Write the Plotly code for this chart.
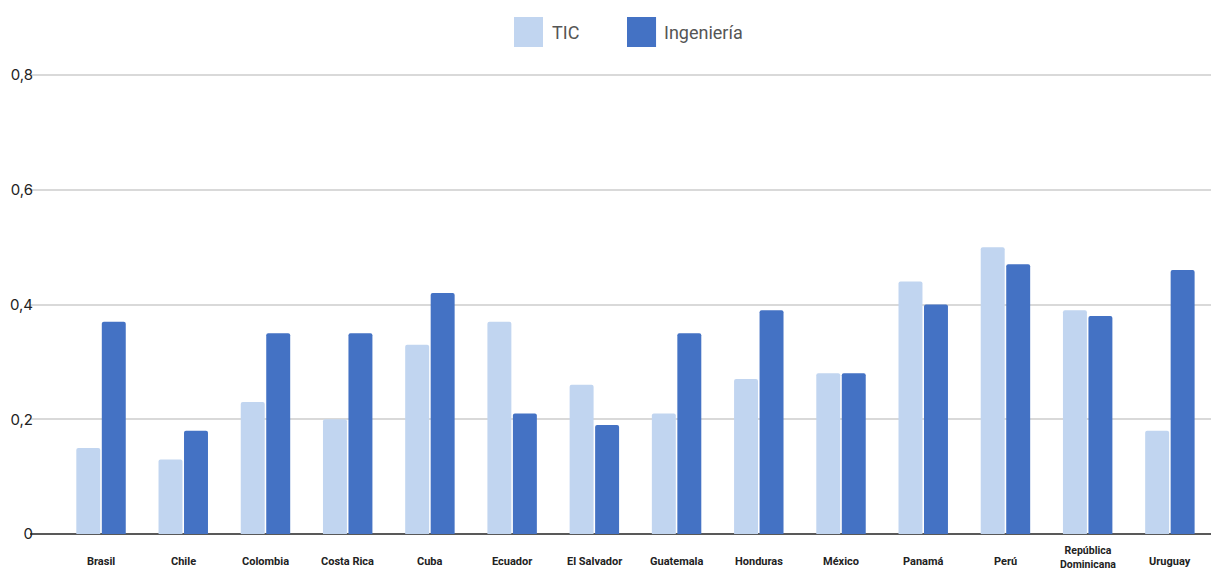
import plotly.graph_objects as go

countries = ["Brasil", "Chile", "Colombia", "Costa Rica", "Cuba", "Ecuador", "El Salvador",
             "Guatemala", "Honduras", "México", "Panamá", "Perú", "República<br>Dominicana", "Uruguay"]
tic = [0.15, 0.13, 0.23, 0.20, 0.33, 0.37, 0.26, 0.21, 0.27, 0.28, 0.44, 0.50, 0.39, 0.18]
ingenieria = [0.37, 0.18, 0.35, 0.35, 0.42, 0.21, 0.19, 0.35, 0.39, 0.28, 0.40, 0.47, 0.38, 0.46]
series_names = ["TIC", "Ingeniería"]
colors = ["#c1d5f0", "#4472c4"]
y_ticks = [0, 0.2, 0.4, 0.6, 0.8]

PLOT_TOP, PLOT_BOTTOM = 72, 534
PH = PLOT_BOTTOM - PLOT_TOP

def py(px):
    return (PLOT_BOTTOM - px) / PH

fig = go.Figure()
for name, vals, col in zip(series_names, [tic, ingenieria], colors):
    fig.add_trace(go.Bar(x=list(range(len(countries))), y=vals, name=name,
                         marker=dict(color=col, line=dict(width=0)),
                         showlegend=False))

# x category labels as annotations (vertically centred so the two-line label sits higher)
for i, c in enumerate(countries):
    two_line = "<br>" in c
    fig.add_annotation(xref="x", yref="paper", x=i, y=py(557 if two_line else 561), text=c,
                       showarrow=False, xanchor="center", yanchor="middle", align="center",
                       font=dict(size=10.5 if two_line else 11, color="#222222",
                                 family="Roboto, sans-serif", weight="bold"))

# custom legend with large swatches (paper coords relative to plot area)
legend_pos = [(0.4098, 0.4344, 0.4403), (0.5055, 0.5301, 0.5351)]
for (x0, x1, xt), name, col in zip(legend_pos, series_names, colors):
    fig.add_shape(type="rect", xref="paper", yref="paper", x0=x0, x1=x1,
                  y0=py(47), y1=py(17),
                  fillcolor=col, line=dict(width=0), layer="above")
    fig.add_annotation(xref="paper", yref="paper", x=xt, y=py(32),
                       text=name, showarrow=False, xanchor="left", yanchor="middle",
                       font=dict(size=18, color="#555555", family="Roboto, sans-serif"))

fig.update_layout(
    width=1211, height=571,
    margin=dict(l=30, r=0, t=PLOT_TOP, b=571 - PLOT_BOTTOM),
    paper_bgcolor="white", plot_bgcolor="white",
    separators=",.",
    bargap=0.38, bargroupgap=0.06, barmode="group",
    barcornerradius=2,
    xaxis=dict(range=[-0.864, 13.5], showgrid=False, showline=False, zeroline=False,
               showticklabels=False, ticks="", automargin=False),
    yaxis=dict(range=[0, 0.8 * PH / 459], tickvals=y_ticks, showgrid=True, gridcolor="#d9d9d9", gridwidth=1.5,
               zeroline=True, zerolinecolor="#595959", zerolinewidth=2,
               ticks="", ticklabelstandoff=-4, automargin=False,
               tickfont=dict(size=15, color="#222222", family="Inter, Roboto, sans-serif")),
)

fig.write_html("out.html")
